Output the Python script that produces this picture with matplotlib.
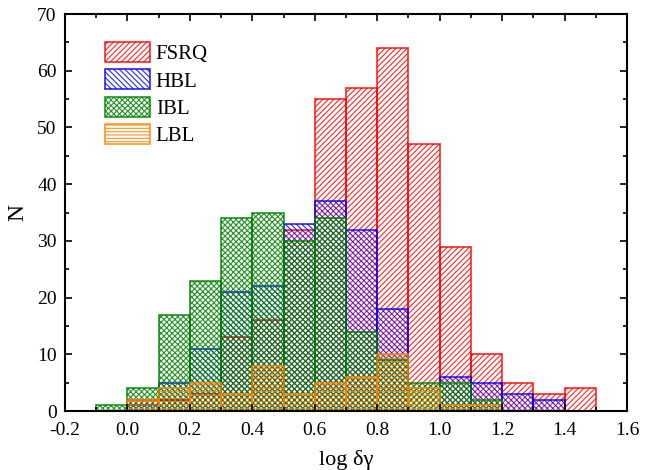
import numpy as np
import matplotlib
matplotlib.use("Agg")
import matplotlib.pyplot as plt
from matplotlib.ticker import MultipleLocator

# Data (counts per bin of width 0.1 in log δγ)
bin_left = [-0.1, 0.0, 0.1, 0.2, 0.3, 0.4, 0.5, 0.6, 0.7, 0.8, 0.9, 1.0, 1.1, 1.2, 1.3, 1.4]
fsrq = [0, 2, 2, 3, 13, 16, 32, 55, 57, 64, 47, 29, 10, 5, 3, 4]
hbl = [0, 1, 5, 11, 21, 22, 33, 37, 32, 18, 0, 6, 5, 3, 2, 0]
ibl = [1, 4, 17, 23, 34, 35, 30, 34, 14, 9, 5, 5, 2, 0, 0, 0]
lbl = [0, 2, 4, 5, 3, 8, 3, 5, 6, 10, 4, 1, 1, 0, 0, 0]
labels = ["FSRQ", "HBL", "IBL", "LBL"]
xtick_labels = ["-0.2", "0.0", "0.2", "0.4", "0.6", "0.8", "1.0", "1.2", "1.4", "1.6"]

plt.rcParams['font.family'] = ['Liberation Serif', 'DejaVu Serif']
plt.rcParams['hatch.linewidth'] = 0.8

fig = plt.figure(figsize=(6.59, 4.70), dpi=100)
ax = fig.add_axes([0.0986, 0.1255, 0.8528, 0.8447])

series = [(fsrq, '#FF0000', '//////'), (hbl, '#0000FF', '\\\\\\\\\\\\'),
          (ibl, '#008000', 'xxxxxx'), (lbl, '#FF8000', '-----')]
for (vals, col, hatch), lab in zip(series, labels):
    x = [b for b, v in zip(bin_left, vals) if v > 0]
    h = [v for v in vals if v > 0]
    ax.bar(x, h, width=0.1, align='edge', facecolor='none', edgecolor=col,
           hatch=hatch, linewidth=1.2, label=lab, alpha=0.85)

ax.set_xlim(-0.2, 1.6)
ax.set_ylim(0, 70)
ax.xaxis.set_major_locator(MultipleLocator(0.2))
ax.xaxis.set_minor_locator(MultipleLocator(0.1))
ax.yaxis.set_major_locator(MultipleLocator(10))
ax.yaxis.set_minor_locator(MultipleLocator(5))
ax.tick_params(which='both', direction='in', top=True, right=True, labelsize=14)
ax.tick_params(axis='x', which='major', pad=8)
ax.tick_params(axis='y', which='major', pad=6)
ax.tick_params(which='major', length=5, width=1.2)
ax.tick_params(which='minor', length=3, width=1.2)
ax.set_xticks(np.arange(-0.2, 1.61, 0.2))
ax.set_xticklabels(xtick_labels)
for s in ax.spines.values():
    s.set_linewidth(1.5)

ax.set_xlabel("log δγ", fontsize=16, labelpad=8)
ax.set_ylabel("N", fontsize=17, labelpad=6)

leg = ax.legend(loc='upper left', bbox_to_anchor=(0.056, 0.95), frameon=False,
                fontsize=15, handlelength=2.15, handleheight=1.1,
                labelspacing=0.25, handletextpad=0.3, borderaxespad=0)

fig.savefig("out.png", dpi=100)
